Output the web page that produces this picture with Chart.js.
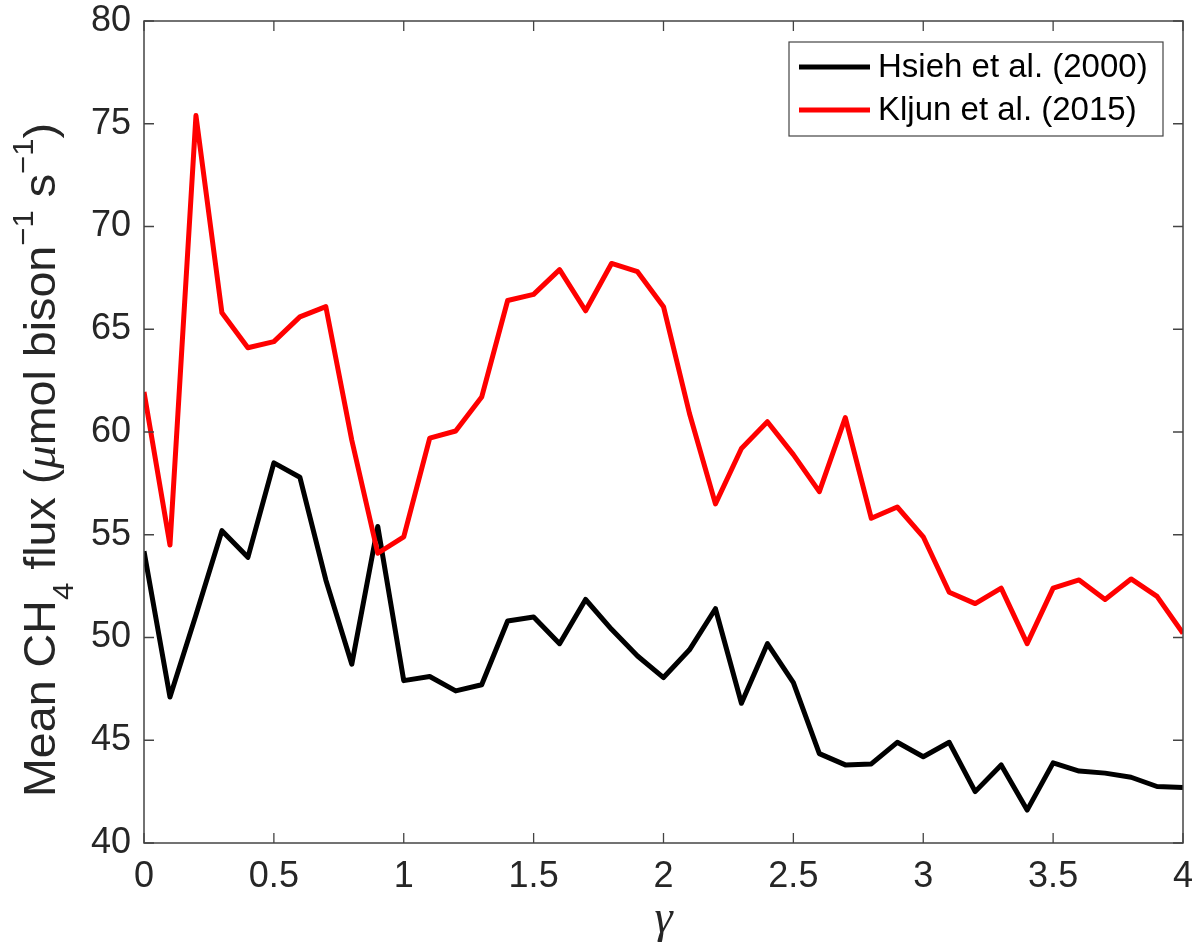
<!DOCTYPE html>
<html>
<head>
<meta charset="utf-8">
<script src="https://cdn.jsdelivr.net/npm/chart.js@4.4.1/dist/chart.umd.min.js"></script>
<style>
  html, body { margin: 0; padding: 0; background: #fff; }
</style>
</head>
<body>
<canvas id="grafico" width="1200" height="951"></canvas>
<script>
// ── Dados ─────────────────────────────────
const gamma = [0, 0.1, 0.2, 0.3, 0.4, 0.5, 0.6, 0.7, 0.8, 0.9,
               1.0, 1.1, 1.2, 1.3, 1.4, 1.5, 1.6, 1.7, 1.8, 1.9,
               2.0, 2.1, 2.2, 2.3, 2.4, 2.5, 2.6, 2.7, 2.8, 2.9,
               3.0, 3.1, 3.2, 3.3, 3.4, 3.5, 3.6, 3.7, 3.8, 3.9, 4.0];

const hsieh = [54.2, 47.1, 51.1, 55.2, 53.9, 58.5, 57.8, 52.8, 48.7, 55.4,
               47.9, 48.1, 47.4, 47.7, 50.8, 51.0, 49.7, 51.85, 50.4, 49.1,
               48.05, 49.4, 51.4, 46.8, 49.7, 47.8, 44.35, 43.8, 43.85, 44.9,
               44.2, 44.9, 42.5, 43.8, 41.6, 43.9, 43.5, 43.4, 43.2, 42.75, 42.7];

const kljun = [61.95, 54.5, 75.4, 65.8, 64.1, 64.4, 65.6, 66.1, 59.6, 54.1,
               54.9, 59.7, 60.05, 61.7, 66.4, 66.7, 67.9, 65.9, 68.2, 67.8,
               66.1, 60.9, 56.5, 59.2, 60.5, 58.9, 57.1, 60.7, 55.8, 56.35,
               54.9, 52.2, 51.65, 52.4, 49.7, 52.4, 52.8, 51.85, 52.85, 52.0, 50.2];

const seriesNomes = ['Hsieh et al. (2000)', 'Kljun et al. (2015)'];
const seriesCores = ['#000000', '#ff0000'];

const xTicks = [0, 0.5, 1, 1.5, 2, 2.5, 3, 3.5, 4];
const yTicks = [40, 45, 50, 55, 60, 65, 70, 75, 80];

const FONTE = '"Liberation Sans", Arial, Helvetica, sans-serif';
const EIXO_COR = '#444444';
const TEXTO_COR = '#262626';

// ── Moldura, ticks internos, título Y e legenda ──
const molduraPlugin = {
  id: 'moldura',
  afterDraw(chart) {
    const { ctx, chartArea: a, scales: { x, y } } = chart;
    ctx.save();

    // caixa
    ctx.strokeStyle = EIXO_COR;
    ctx.lineWidth = 1.5;
    ctx.strokeRect(a.left, a.top, a.right - a.left, a.bottom - a.top);

    // ticks para dentro (todos os lados)
    ctx.lineWidth = 1.3;
    ctx.beginPath();
    xTicks.forEach(v => {
      const px = x.getPixelForValue(v);
      ctx.moveTo(px, a.bottom); ctx.lineTo(px, a.bottom - 10);
      ctx.moveTo(px, a.top);    ctx.lineTo(px, a.top + 10);
    });
    yTicks.forEach(v => {
      const py = y.getPixelForValue(v);
      ctx.moveTo(a.left, py);  ctx.lineTo(a.left + 10, py);
      ctx.moveTo(a.right, py); ctx.lineTo(a.right - 10, py);
    });
    ctx.stroke();

    // título do eixo Y com sub/sobrescritos
    const base = '45px ' + FONTE;
    const peq  = '30px ' + FONTE;
    const partes = [
      { t: 'Mean CH',   f: base, dy: 0 },
      { t: '4',         f: peq,  dy: 18 },
      { t: ' flux (',   f: base, dy: 0 },
      { t: 'μ',         f: 'italic 45px "Liberation Serif", serif', dy: 0 },
      { t: 'mol bison', f: base, dy: 0 },
      { t: '−1',        f: peq,  dy: -22 },
      { t: ' s',        f: base, dy: 0 },
      { t: '−1',        f: peq,  dy: -22 },
      { t: ')',         f: base, dy: 0 }
    ];
    let total = 0;
    partes.forEach(p => { ctx.font = p.f; p.w = ctx.measureText(p.t).width; total += p.w; });
    const alvo = 674;
    ctx.translate(55, 460);
    ctx.rotate(-Math.PI / 2);
    ctx.scale(alvo / total, 1);
    ctx.fillStyle = TEXTO_COR;
    ctx.textBaseline = 'alphabetic';
    ctx.textAlign = 'left';
    let cx = -total / 2;
    partes.forEach(p => { ctx.font = p.f; ctx.fillText(p.t, cx, p.dy); cx += p.w; });
    ctx.setTransform(1, 0, 0, 1, 0, 0);

    // legenda
    const lx = 789, ly = 42, lw = 374, lh = 94;
    ctx.fillStyle = '#ffffff';
    ctx.fillRect(lx, ly, lw, lh);
    ctx.strokeStyle = EIXO_COR;
    ctx.lineWidth = 1.2;
    ctx.strokeRect(lx, ly, lw, lh);
    ctx.font = '33px ' + FONTE;
    ctx.textBaseline = 'middle';
    seriesNomes.forEach((nome, i) => {
      const yy = ly + 25 + i * 43;
      ctx.strokeStyle = seriesCores[i];
      ctx.lineWidth = 5;
      ctx.beginPath(); ctx.moveTo(lx + 10, yy); ctx.lineTo(lx + 81, yy); ctx.stroke();
      ctx.fillStyle = '#000000';
      ctx.fillText(nome, lx + 89, yy + 1);
    });

    ctx.restore();
  }
};

const mkSerie = (i, valores) => ({
  label: seriesNomes[i],
  data: gamma.map((g, k) => ({ x: g, y: valores[k] })),
  borderColor: seriesCores[i],
  backgroundColor: seriesCores[i],
  borderWidth: 5,
  pointRadius: 0,
  tension: 0,
  borderJoinStyle: 'round',
  order: i === 0 ? 1 : 0
});

new Chart(document.getElementById('grafico').getContext('2d'), {
  type: 'line',
  data: { datasets: [mkSerie(0, hsieh), mkSerie(1, kljun)] },
  options: {
    responsive: false,
    animation: false,
    layout: { padding: { top: 21, right: 17, left: 0, bottom: 0 } },
    plugins: { legend: { display: false }, tooltip: { enabled: false } },
    scales: {
      x: {
        type: 'linear', min: 0, max: 4,
        afterBuildTicks: s => { s.ticks = xTicks.map(v => ({ value: v })); },
        afterFit: s => { s.height = 108; s.paddingLeft = 0; s.paddingRight = 0; },
        grid: { display: false, drawTicks: false },
        border: { display: false },
        ticks: {
          color: TEXTO_COR, padding: 12, maxRotation: 0, autoSkip: false,
          font: { size: 36, family: FONTE },
          callback: v => String(v)
        },
        title: {
          display: true, text: 'γ', color: TEXTO_COR,
          font: { size: 46, family: '"Liberation Serif", "DejaVu Serif", serif', style: 'italic', lineHeight: 1 },
          padding: { top: 0, bottom: 8 }
        }
      },
      y: {
        min: 40, max: 80,
        afterBuildTicks: s => { s.ticks = yTicks.map(v => ({ value: v })); },
        afterFit: s => { s.width = 144; s.paddingTop = 0; s.paddingBottom = 0; },
        grid: { display: false, drawTicks: false },
        border: { display: false },
        ticks: {
          color: TEXTO_COR, padding: 13, autoSkip: false,
          font: { size: 36, family: FONTE },
          callback: v => String(v)
        }
      }
    }
  },
  plugins: [molduraPlugin]
});
</script>
</body>
</html>
